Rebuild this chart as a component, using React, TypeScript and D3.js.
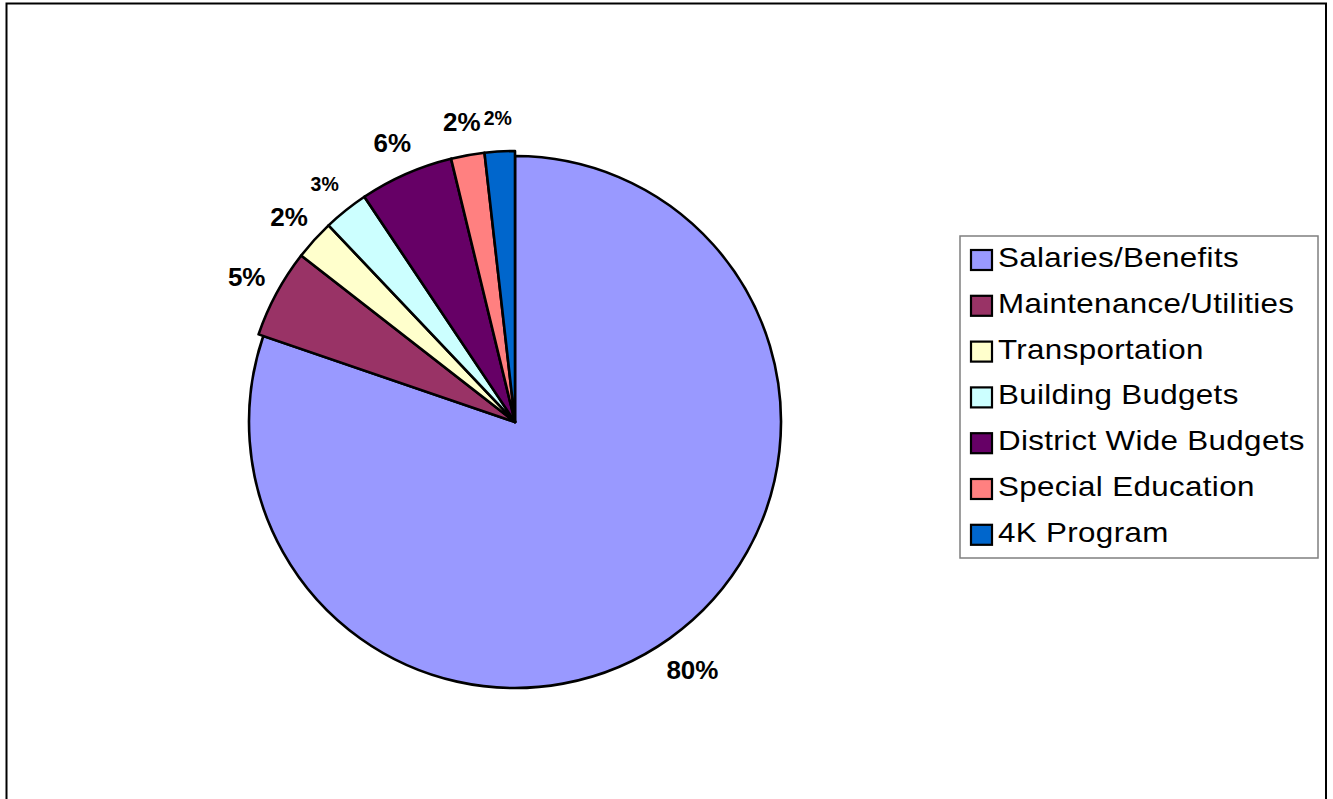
import * as d3 from 'd3';

const categories = [
  'Salaries/Benefits',
  'Maintenance/Utilities',
  'Transportation',
  'Building Budgets',
  'District Wide Budgets',
  'Special Education',
  '4K Program',
];
const shares = [80.4, 5.3, 2.4, 2.7, 5.6, 2.0, 1.8];
const sliceColors = ['#9999FF', '#993366', '#FFFFCC', '#CCFFFF', '#660066', '#FF8080', '#0066CC'];

const W = 1333;
const H = 799;

export default function App() {
  const cx = 515;
  const cy = 422;
  const radius = 266;
  const smallRadius = 271;
  const labelRadius = 305;

  const total = d3.sum(shares);
  const arcs = d3.pie<number>().sort(null).value(d => d)(shares);
  const arc = d3.arc<d3.PieArcDatum<number>>().innerRadius(0);
  const labelArc = d3.arc<d3.PieArcDatum<number>>().innerRadius(labelRadius).outerRadius(labelRadius);

  // two of the labels came out smaller in the original
  const smallLabels = new Set([3, 6]);

  const legendX = 960;
  const legendY = 236;
  const rowStep = 45.8;

  return (
    <svg
      width={W}
      height={H}
      viewBox={`0 0 ${W} ${H}`}
      style={{ position: 'absolute', left: 0, top: 0, background: '#fff' }}
      fontFamily="'Liberation Sans', Arial, sans-serif"
    >
      <rect x={6.5} y={3.5} width={1319.5} height={810} fill="#fff" stroke="#000" strokeWidth={2} />

      <g transform={`translate(${cx},${cy})`}>
        {arcs.map((a, i) => (
          <path
            key={categories[i]}
            d={arc.outerRadius(i === 0 ? radius : smallRadius)(a) || ''}
            fill={sliceColors[i]}
            stroke="#000"
            strokeWidth={2.6}
            strokeLinejoin="round"
          />
        ))}
        {arcs.map((a, i) => {
          const [lx, ly] = labelArc.centroid(a);
          const fs = smallLabels.has(i) ? 19.5 : 26;
          return (
            <text
              key={'l' + i}
              x={lx}
              y={ly + fs * 0.36}
              textAnchor="middle"
              fontSize={fs}
              fontWeight="bold"
              fill="#000"
            >
              {Math.round((a.value / total) * 100)}%
            </text>
          );
        })}
      </g>

      <rect x={legendX} y={legendY} width={358} height={322} fill="#fff" stroke="#7f7f7f" strokeWidth={1.5} />
      {categories.map((c, i) => {
        const yc = 260 + i * rowStep;
        return (
          <g key={'lg' + i}>
            <rect x={971} y={yc - 10} width={21} height={20} fill={sliceColors[i]} stroke="#000" strokeWidth={2.2} />
            <text
              transform={`translate(998,${yc + 7}) scale(1.12,1)`}
              fontSize={28}
              letterSpacing={0.3}
              fill="#000"
            >
              {c}
            </text>
          </g>
        );
      })}
    </svg>
  );
}
